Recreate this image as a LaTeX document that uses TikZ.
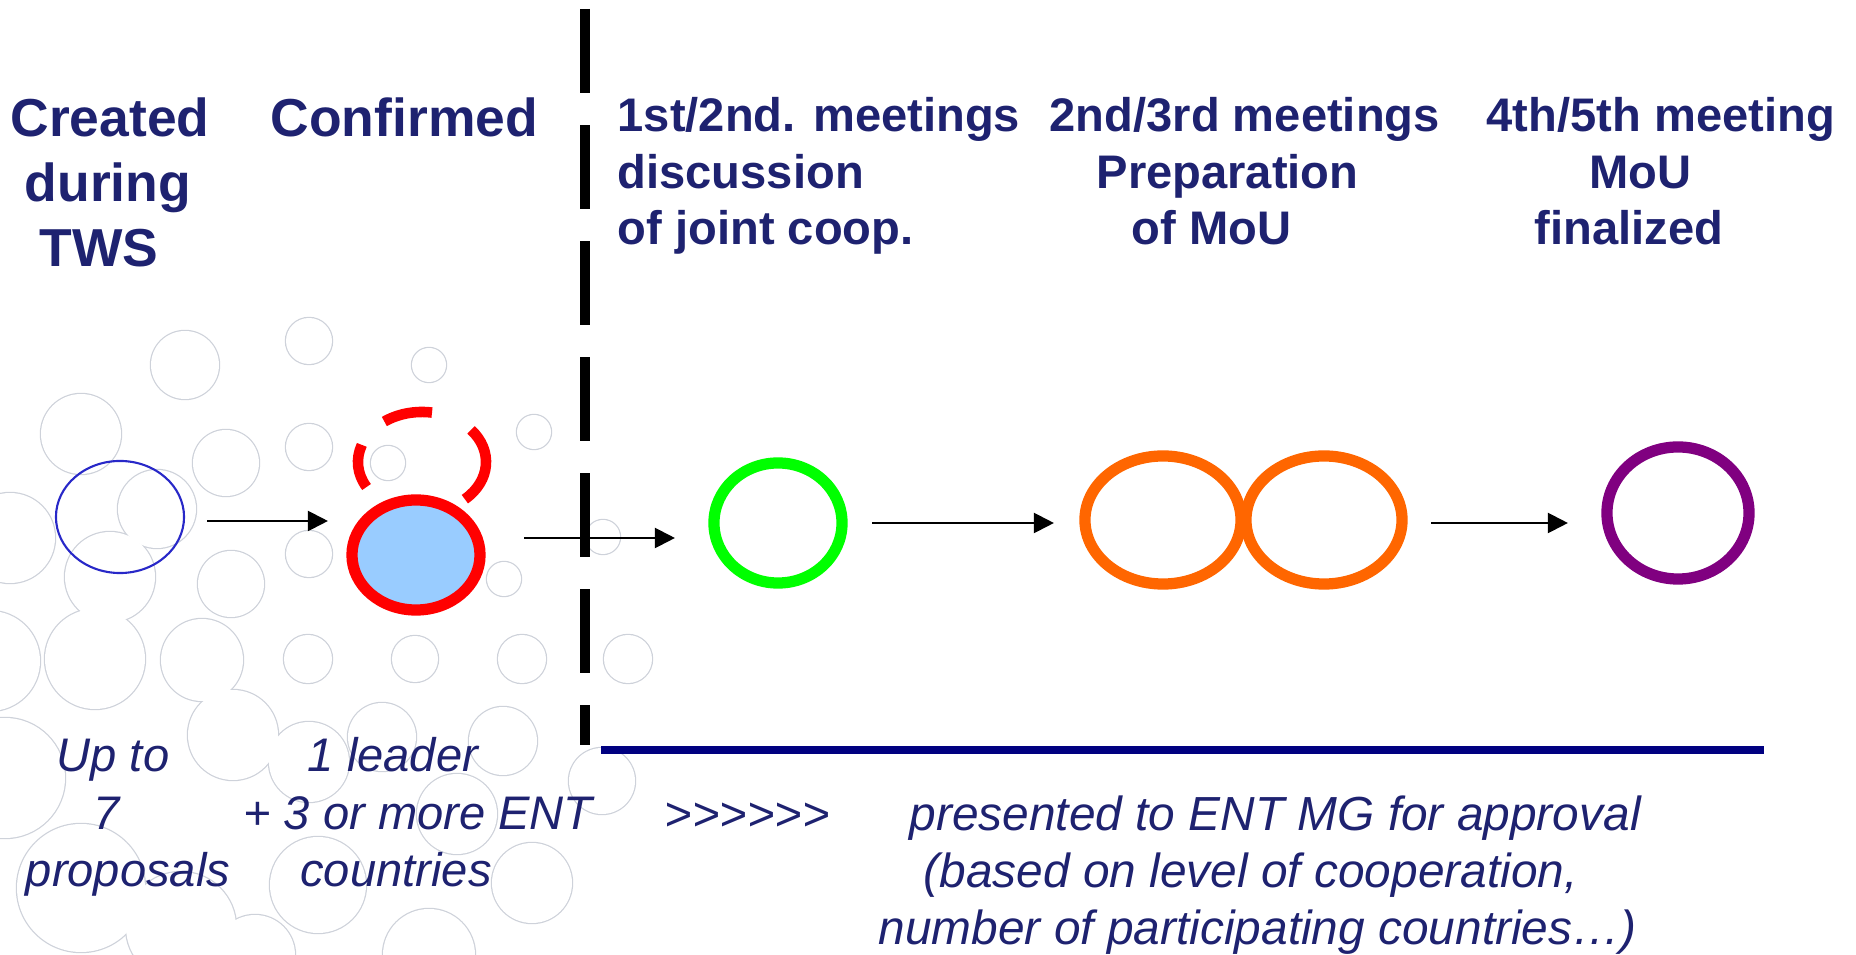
\documentclass[tikz,border=0pt]{standalone}
\usepackage{fontspec}
\setmainfont{Liberation Sans}
\usetikzlibrary{shapes.geometric,arrows.meta}
\definecolor{navytext}{RGB}{30,34,112}
\definecolor{linenavy}{RGB}{0,0,128}
\definecolor{bubgray}{RGB}{206,210,218}
\definecolor{ellblue}{RGB}{40,40,200}
\definecolor{fillblue}{RGB}{153,204,255}
\definecolor{pgreen}{RGB}{0,255,0}
\definecolor{porange}{RGB}{255,102,0}
\definecolor{ppurple}{RGB}{128,0,128}
\tikzset{
  ell/.style={ellipse, inner sep=0pt, outer sep=0pt, draw},
  thick ell/.style={ell, line width=3.2pt},
  arr/.style={-{Triangle[length=5.7pt,width=5.7pt]}, line width=0.6pt, black},
  hdrL/.style={font=\fontsize{15.2}{18}\selectfont\bfseries, text=navytext, inner sep=0pt},
  hdrR/.style={font=\fontsize{13.4}{16}\selectfont\bfseries, text=navytext, inner sep=0pt},
  bot/.style={font=\fontsize{13.4}{16}\selectfont\itshape, text=navytext, inner sep=0pt},
  botw/.style={font=\fontsize{13.6}{16}\selectfont\itshape, text=navytext, inner sep=0pt},
  dashring/.style={red, line width=3.0pt},
}
\def\bubbles{309/341/23, 429/365/17, 185/365/34, 81/434/40, 226/463/33, 309/447/23,
 534/432/17, 388/463/17, 10/538/45, 157/509/39, 110/577/45, 309/554/23,
 231/584/33, 504/579/17, 603/537/17, 308/659/24, 415/659/23, 522/659/24, 628/659/24,
 -10/661/50, 95/659/50, 202/660/41, 5/778/60, 233/735/45, 309/762/40, 382/737/34,
 503/741/34, 602/781/33, 457/814/40, 532/883/40, 429/955/46, 318/885/48,
 81/888/64, 181/927/55, 255/955/40}
\begin{document}
\begin{tikzpicture}[x=0.01cm, y=-0.01cm]
\useasboundingbox (0,0) rectangle (1856,955);
% background bubbles (outline of their union)
\foreach \cx/\cy/\r in \bubbles
 \draw[bubgray, line width=0.7pt] (\cx,\cy) circle[radius=\r];
\foreach \cx/\cy/\r in \bubbles
 \fill[white] (\cx,\cy) circle[radius=\r];
% separator and base line
\draw[line width=2.85pt, dash pattern=on 23.9pt off 9.1pt] (585,9) -- (585,745);
\draw[linenavy, line width=2.3pt] (601,750) -- (1764,750);
% headers
\node[hdrL, anchor=base] (h1a) at (110,137) {Created};
\node[hdrL, anchor=base] (h1b) at (108,202) {during};
\node[hdrL, anchor=base] (h1c) at (99,267) {TWS};
\node[hdrL, anchor=base west] (h2) at (270,137) {Confirmed};
\node[hdrR, anchor=base west] (h3a) at (617,132) {1st/2nd. meetings};
\node[hdrR, anchor=base west] (h3b) at (617,189) {discussion};
\node[hdrR, anchor=base west] (h3c) at (617,245) {of joint coop.};
\node[hdrR, anchor=base west] (h4a) at (1049,132) {2nd/3rd meetings};
\node[hdrR, anchor=base west] (h4b) at (1096,189) {Preparation};
\node[hdrR, anchor=base west] (h4c) at (1131,245) {of MoU};
\node[hdrR, anchor=base west] (h5a) at (1486,132) {4th/5th meeting};
\node[hdrR, anchor=base west] (h5b) at (1589,189) {MoU};
\node[hdrR, anchor=base west] (h5c) at (1534,245) {finalized};
% bottom texts
\node[bot, anchor=base] (b1a) at (113,772) {Up to};
\node[bot, anchor=base] (b1b) at (107,830) {7};
\node[bot, anchor=base] (b1c) at (128,887) {proposals};
\node[bot, anchor=base] (b2a) at (393,772) {1 leader};
\node[bot, anchor=base] (b2b) at (418,830) {+ 3 or more ENT};
\node[bot, anchor=base] (b2c) at (396,887) {countries};
\node[bot, anchor=base west] (b3) at (664,831) {>\kern0pt>\kern0pt>\kern0pt>\kern0pt>\kern0pt>};
\node[botw, anchor=base west] (b4a) at (909,831) {presented to ENT MG for approval};
\node[botw, anchor=base west] (b4b) at (923,888) {(based on level of cooperation,};
\node[botw, anchor=base west] (b4c) at (878,945) {number of participating countries…)};
% stage shapes
\node[ell, draw=ellblue, line width=0.6pt, minimum width=1.28cm, minimum height=1.12cm] (tws) at (120,517) {};
\coordinate (dc) at (422,462);
\draw[dashring] (dc) ++(-48:0.64cm and 0.50cm) arc[start angle=-48, end angle=40, x radius=0.64cm, y radius=0.50cm];
\draw[dashring] (dc) ++(81:0.64cm and 0.50cm) arc[start angle=81, end angle=126, x radius=0.64cm, y radius=0.50cm];
\draw[dashring] (dc) ++(160:0.64cm and 0.50cm) arc[start angle=160, end angle=210, x radius=0.64cm, y radius=0.50cm];
\node[thick ell, draw=red, fill=fillblue, minimum width=1.28cm, minimum height=1.10cm] (conf) at (416,555) {};
\node[thick ell, draw=pgreen, minimum width=1.28cm, minimum height=1.20cm] (meet1) at (778,523) {};
\node[thick ell, draw=porange, minimum width=1.56cm, minimum height=1.28cm] (prep1) at (1163,520) {};
\node[thick ell, draw=porange, minimum width=1.56cm, minimum height=1.28cm] (prep2) at (1324,520) {};
\node[thick ell, draw=ppurple, minimum width=1.42cm, minimum height=1.32cm] (mou) at (1678,513) {};
% connectors
\coordinate (a2s) at (524,538);
\draw[arr] ([xshift=0.23cm, yshift=-0.04cm]tws.east) -- ([xshift=-0.24cm, yshift=-0.04cm]tws.east -| conf.west);
\draw[arr, shorten >=0.39cm] (a2s) -- (a2s -| meet1.west);
\draw[arr] ([xshift=0.30cm]meet1.east) -- ([xshift=-0.31cm]meet1.east -| prep1.west);
\draw[arr] ([xshift=0.29cm, yshift=-0.03cm]prep2.east) -- ([xshift=-0.39cm, yshift=-0.03cm]prep2.east -| mou.west);
\end{tikzpicture}
\end{document}
